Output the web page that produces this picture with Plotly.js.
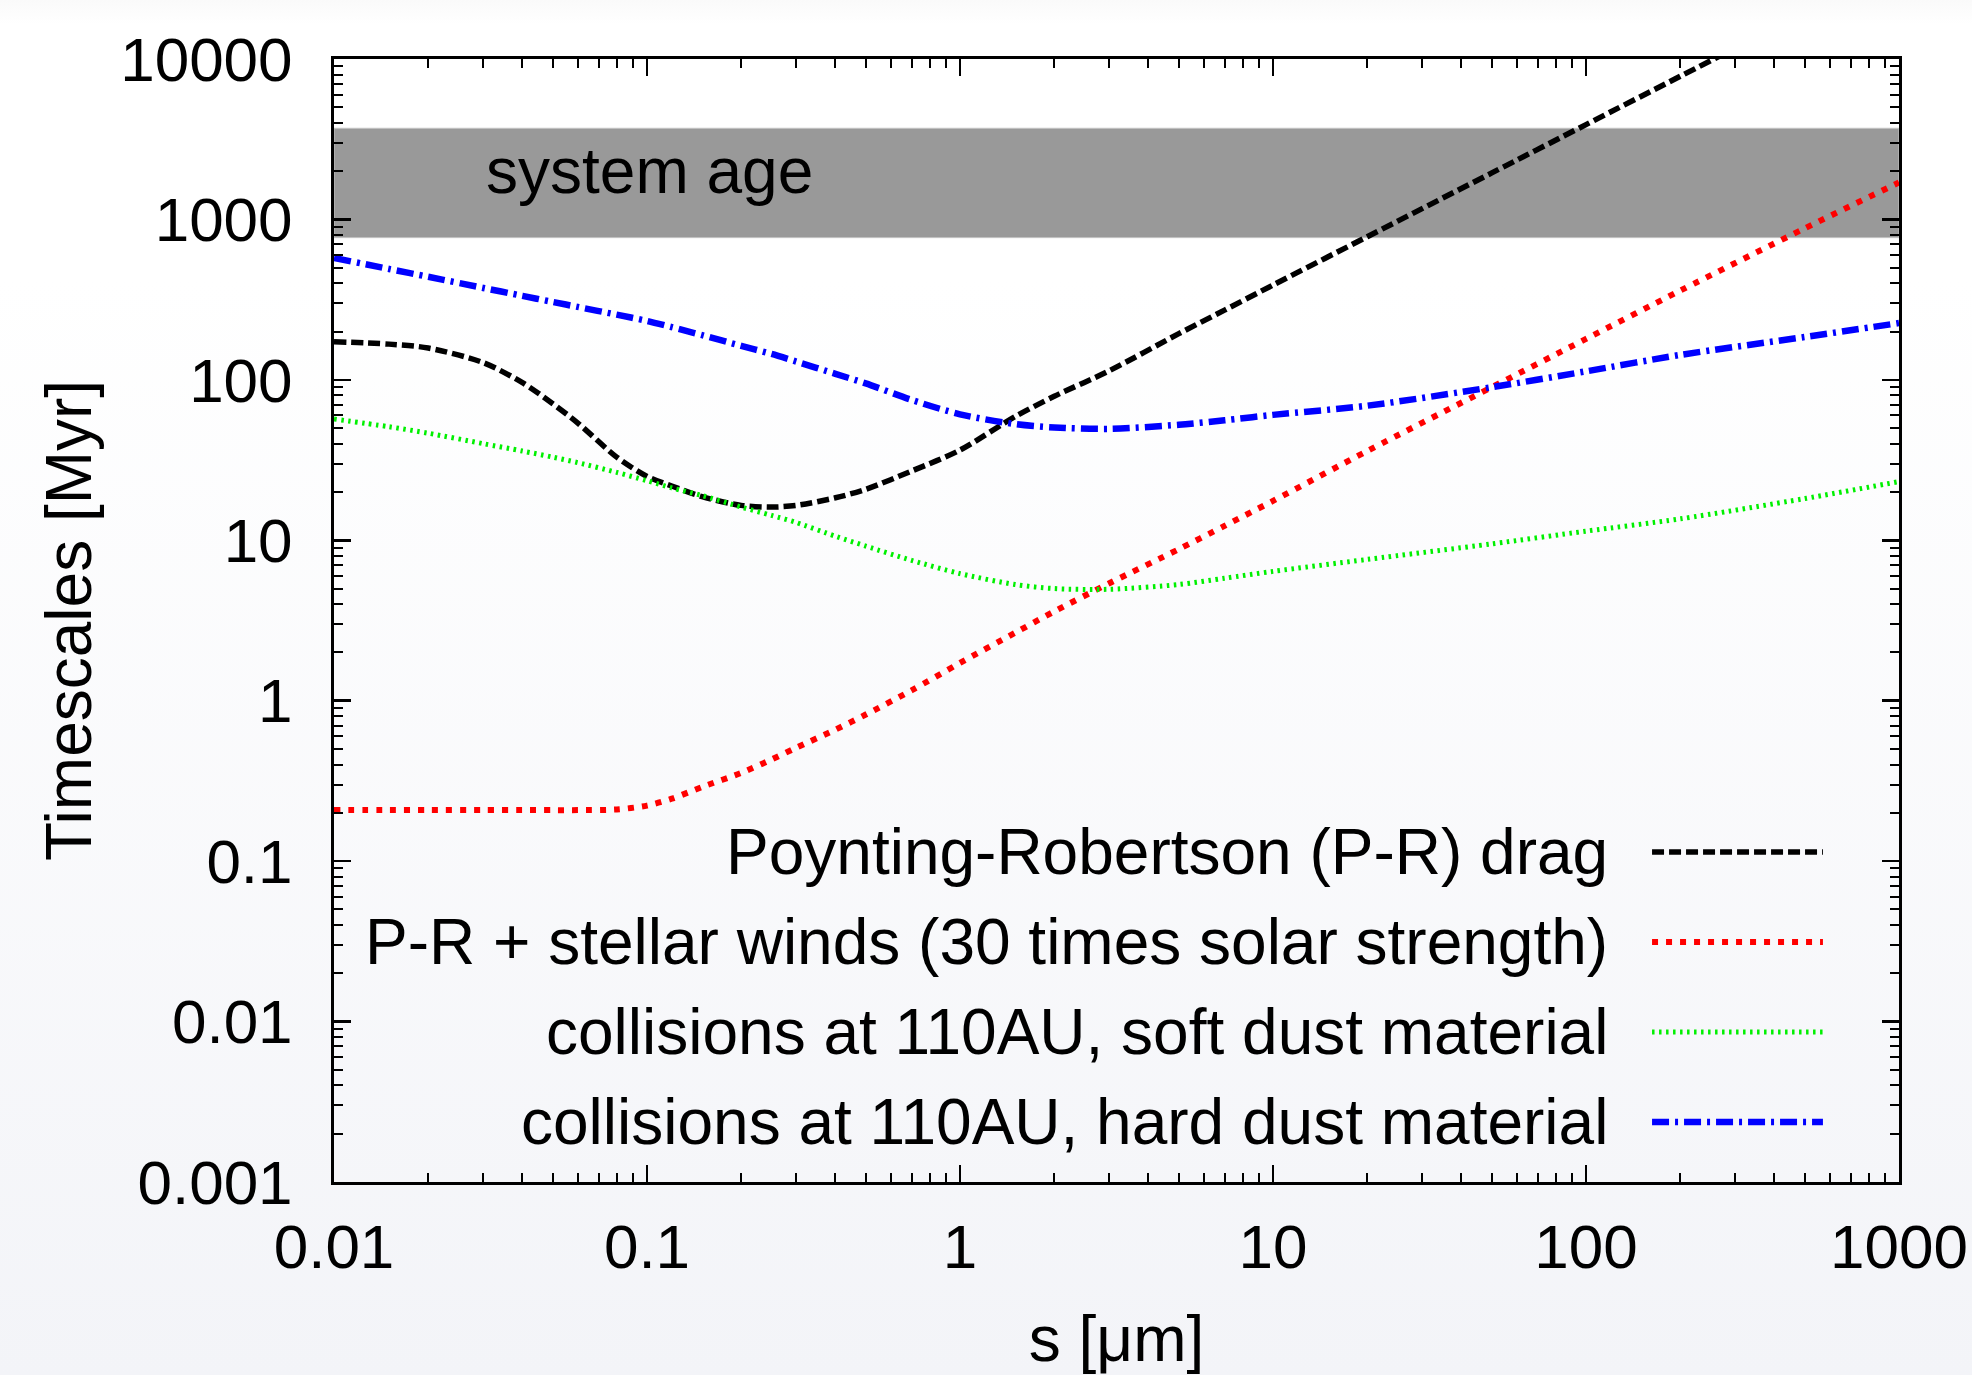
<!DOCTYPE html>
<html>
<head>
<meta charset="utf-8">
<script src="https://cdn.plot.ly/plotly-3.0.1.min.js"></script>
<style>
  html, body { margin: 0; padding: 0; }
  body {
    width: 1972px; height: 1375px; overflow: hidden;
    background: linear-gradient(to bottom, #fafafa 0px, #ffffff 24px, #ffffff 280px, #f3f4f8 1375px);
  }
  #chart { width: 1972px; height: 1375px; }
</style>
</head>
<body>
<div id="chart"></div>
<script>
// grain size s [micron]
const sizes = [0.01, 0.015, 0.02, 0.03, 0.04, 0.05, 0.06, 0.08, 0.1, 0.12, 0.15, 0.2, 0.25, 0.3, 0.4, 0.5, 0.7, 1, 1.5, 2, 3, 5, 7, 10, 20, 50, 100, 200, 500, 1000];

// timescales [Myr]
const prDrag = [173, 167, 158, 128, 96, 71, 54, 33, 25, 21.8, 18.7, 16.5, 16.1, 16.5, 18.4, 20.8, 27, 36.5, 59, 79, 114, 194, 272, 390, 780, 1950, 3900, 7800, 19500, 39000];
const prWinds = [0.208, 0.208, 0.208, 0.208, 0.208, 0.208, 0.208, 0.21, 0.222, 0.245, 0.29, 0.355, 0.43, 0.51, 0.66, 0.82, 1.16, 1.72, 2.65, 3.6, 5.4, 8.8, 12.3, 17.6, 36, 90, 180, 360, 880, 1700];
const collSoft = [57, 51, 46.5, 40, 36, 33, 30.5, 26.5, 23.5, 21.2, 19, 16.1, 14.3, 12.9, 10.6, 9.2, 7.5, 6.2, 5.3, 5.0, 4.95, 5.3, 5.8, 6.4, 7.6, 9.5, 11.4, 13.6, 18.2, 23.2];
const collHard = [575, 491, 439, 374, 334, 306, 285, 255, 233, 213, 190, 163, 145, 130, 109, 95, 75, 61, 53, 50.5, 49.5, 52.5, 56, 60.5, 69, 90, 113, 143, 185, 226];

// system age band [Myr]
const ageLow = 770;
const ageHigh = 3700;
const ageLabel = "system age";

const seriesNames = [
  "Poynting-Robertson (P-R) drag",
  "P-R + stellar winds (30 times solar strength)",
  "collisions at 110AU, soft dust material",
  "collisions at 110AU, hard dust material"
];

const xTickVals = [0.01, 0.1, 1, 10, 100, 1000];
const xTickText = ["0.01", "0.1", "1", "10", "100", "1000"];
const yTickVals = [0.001, 0.01, 0.1, 1, 10, 100, 1000, 10000];
const yTickText = ["0.001", "0.01", "0.1", "1", "10", "100", "1000", "10000"];

const FONT = "Liberation Sans, Arial, Helvetica, sans-serif";

// minor tick positions (2..9 per decade)
function minorVals(lo, hi) {
  const out = [];
  for (let e = lo; e < hi; e++) {
    for (let m = 2; m <= 9; m++) out.push(m * Math.pow(10, e));
  }
  return out;
}

const styles = [
  { color: "#000000", width: 5.5, dash: "12px,5px" },
  { color: "#ff0000", width: 6, dash: "6px,8px" },
  { color: "#00f000", width: 5, dash: "2.5px,4.5px" },
  { color: "#0000ff", width: 6.5, dash: "17px,6px,3px,6px" }
];
const ys = [prDrag, prWinds, collSoft, collHard];

const traces = ys.map((y, i) => ({
  type: "scatter",
  mode: "lines",
  x: sizes,
  y: y,
  name: seriesNames[i],
  line: { color: styles[i].color, width: styles[i].width, dash: styles[i].dash, shape: "spline", smoothing: 0.8 },
  showlegend: false,
  hoverinfo: "skip"
}));

// manual legend (text right-aligned, sample on right)
const legendY = [0.2939, 0.2137, 0.1336, 0.0534];
const annotations = [
  {
    xref: "paper", yref: "y", x: 0.0958, y: Math.log10(Math.sqrt(ageLow * ageHigh)),
    xanchor: "left", yanchor: "middle", yshift: 12, showarrow: false,
    text: ageLabel, font: { family: FONT, size: 64, color: "#000" }
  }
];
const shapes = [
  {
    type: "rect", xref: "paper", yref: "y", x0: 0, x1: 1, y0: ageLow, y1: ageHigh,
    fillcolor: "#999999", line: { color: "#c4c4c4", width: 1 }, layer: "below"
  }
];
seriesNames.forEach((n, i) => {
  annotations.push({
    xref: "paper", yref: "paper", x: 0.8153, y: legendY[i],
    xanchor: "right", yanchor: "middle", showarrow: false,
    text: n, font: { family: FONT, size: 64, color: "#000" }
  });
  shapes.push({
    type: "line", xref: "paper", yref: "paper",
    x0: 0.8422, x1: 0.9514, y0: legendY[i], y1: legendY[i],
    line: { color: styles[i].color, width: styles[i].width, dash: styles[i].dash }
  });
});

const axisCommon = {
  type: "log",
  showgrid: false,
  zeroline: false,
  showline: true,
  linecolor: "#000",
  linewidth: 3,
  mirror: "ticks",
  ticks: "inside",
  ticklen: 17,
  tickwidth: 2.5,
  tickcolor: "#000",
  tickmode: "array",
  tickfont: { family: FONT, size: 62, color: "#000" }
};

const layout = {
  width: 1972,
  height: 1375,
  margin: { l: 334, r: 73, t: 59, b: 193, pad: 0 },
  paper_bgcolor: "rgba(0,0,0,0)",
  plot_bgcolor: "rgba(0,0,0,0)",
  showlegend: false,
  xaxis: Object.assign({}, axisCommon, {
    range: [-2, 3],
    tickvals: xTickVals,
    ticktext: xTickText,
    ticklabelstandoff: 9,
    minor: { ticks: "inside", ticklen: 9, tickwidth: 2, tickcolor: "#000", tickmode: "array", tickvals: minorVals(-2, 3), showgrid: false },
    title: { text: "s [μm]", font: { family: FONT, size: 64, color: "#000" }, standoff: 52 }
  }),
  yaxis: Object.assign({}, axisCommon, {
    range: [-3, 4],
    tickvals: yTickVals,
    ticktext: yTickText,
    ticklabelstandoff: 26,
    minor: { ticks: "inside", ticklen: 9, tickwidth: 2, tickcolor: "#000", tickmode: "array", tickvals: minorVals(-3, 4), showgrid: false },
    title: { text: "Timescales [Myr]", font: { family: FONT, size: 64, color: "#000" }, standoff: 8 }
  }),
  shapes: shapes,
  annotations: annotations
};

Plotly.newPlot("chart", traces, layout, { staticPlot: true, displayModeBar: false });
</script>
</body>
</html>
